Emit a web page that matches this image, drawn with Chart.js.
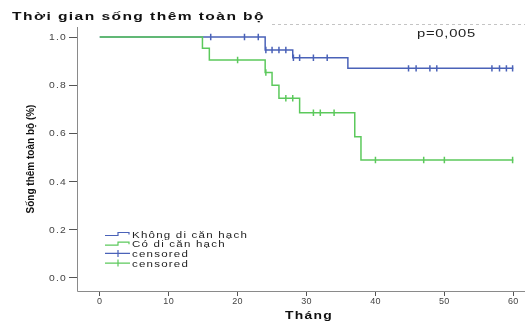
<!DOCTYPE html>
<html><head><meta charset="utf-8">
<script src="https://cdn.jsdelivr.net/npm/chart.js@4.4.0/dist/chart.umd.min.js"></script>
<style>html,body{margin:0;padding:0;background:#fff;overflow:hidden}</style>
</head><body>
<canvas id="c" width="525" height="321"></canvas>
<script>
const titleText = "Thời gian sống thêm toàn bộ";
const xTitle = "Tháng";
const yTitle = "Sống thêm toàn bộ (%)";
const pText = "p=0,005";
const legendLabels = ["Không di căn hạch", "Có di căn hạch", "censored", "censored"];
const xTicks = [0, 10, 20, 30, 40, 50, 60];
const yTicks = [0, 0.2, 0.4, 0.6, 0.8, 1.0];

const blueTimes = [0, 24, 28, 36, 60];
const blueSurv = [1.0, 0.946, 0.914, 0.870, 0.870];
const blueCensTimes = [16.1, 21, 23, 24.1, 25, 26, 27, 28.1, 29, 31, 33, 44.8, 45.9, 47.9, 48.9, 56.9, 58, 59, 59.9];
const blueCensSurv = [1, 1, 1, 0.946, 0.946, 0.946, 0.946, 0.914, 0.914, 0.914, 0.914, 0.870, 0.870, 0.870, 0.870, 0.870, 0.870, 0.870, 0.870];

const greenTimes = [0, 14.9, 15.9, 24, 25, 26, 29, 37, 37.9, 60];
const greenSurv = [1.0, 0.953, 0.905, 0.853, 0.800, 0.746, 0.686, 0.586, 0.490, 0.490];
const greenCensTimes = [20, 24.1, 27, 28, 31, 32, 34, 40, 47, 50, 59.9];
const greenCensSurv = [0.905, 0.853, 0.746, 0.746, 0.686, 0.686, 0.686, 0.49, 0.49, 0.49, 0.49];

const BLUE = '#4a62b8';
const GREEN = '#5cc95c';

const pts = (xs, ys) => xs.map((x, i) => ({x: x, y: ys[i]}));

function stretchText(ctx, text, x, y, font, color, targetW, align, spacing) {
  ctx.save();
  ctx.font = font;
  ctx.letterSpacing = (spacing || 0) + 'px';
  ctx.fillStyle = color;
  ctx.textBaseline = 'alphabetic';
  ctx.textAlign = 'left';
  const w = ctx.measureText(text).width;
  const sx = targetW ? targetW / w : 1;
  const drawW = w * sx;
  let left = x;
  if (align === 'center') left = x - drawW / 2;
  else if (align === 'right') left = x - drawW;
  ctx.translate(left, y);
  ctx.scale(sx, 1);
  ctx.fillText(text, 0, 0);
  ctx.restore();
}

const decor = {
  id: 'decor',
  afterDraw(chart) {
    const ctx = chart.ctx;
    const xs = chart.scales.x, ys = chart.scales.y;
    const ca = chart.chartArea;
    // axis lines
    ctx.save();
    ctx.strokeStyle = '#8a8a8a';
    ctx.lineWidth = 1;
    ctx.beginPath();
    ctx.moveTo(ca.left + 0.5, ca.top + 2);
    ctx.lineTo(ca.left + 0.5, ca.bottom + 0.5);
    ctx.lineTo(525, ca.bottom + 0.5);
    ctx.stroke();
    ctx.restore();
    // title
    stretchText(ctx, titleText, 12, 20, 'bold 11px "Liberation Sans", Arial, sans-serif', '#111', 253, 'left', 1);
    // dashed rule
    ctx.save();
    ctx.strokeStyle = '#c4c4c4';
    ctx.lineWidth = 1;
    ctx.setLineDash([3, 3]);
    ctx.beginPath();
    ctx.moveTo(272, 24.5);
    ctx.lineTo(525, 24.5);
    ctx.stroke();
    ctx.restore();
    // p value
    stretchText(ctx, pText, 417, 37, '10px "Liberation Sans", Arial, sans-serif', '#222', 59, 'left', 0.5);
    // y tick labels
    yTicks.forEach(v => {
      const py = ys.getPixelForValue(v);
      stretchText(ctx, v.toFixed(1), 67, py + 3, '8.5px "Liberation Sans", Arial, sans-serif', '#444', 18, 'right', 1);
    });
    // x tick labels
    xTicks.forEach(v => {
      const px = xs.getPixelForValue(v);
      stretchText(ctx, String(v), px, 303.5, '9px "Liberation Sans", Arial, sans-serif', '#444', 0, 'center', 0.3);
    });
    // x title
    stretchText(ctx, xTitle, 285, 319, 'bold 11px "Liberation Sans", Arial, sans-serif', '#111', 48, 'left', 1);
    // y title (rotated)
    ctx.save();
    ctx.translate(34, 159);
    ctx.rotate(-Math.PI / 2);
    ctx.font = 'bold 10px "Liberation Sans", Arial, sans-serif';
    ctx.fillStyle = '#111';
    ctx.textAlign = 'center';
    ctx.textBaseline = 'alphabetic';
    ctx.fillText(yTitle, 0, 0);
    ctx.restore();
    // legend
    const rowsY = [234, 243.7, 253.4, 263.1];
    const cols = [BLUE, GREEN, BLUE, GREEN];
    ctx.save();
    ctx.font = '9.5px "Liberation Sans", Arial, sans-serif';
    ctx.letterSpacing = '1px';
    const w0 = ctx.measureText(legendLabels[0]).width;
    ctx.restore();
    const sxL = 116 / w0;
    rowsY.forEach((yc, i) => {
      ctx.save();
      ctx.strokeStyle = cols[i];
      ctx.lineWidth = 1.2;
      ctx.beginPath();
      if (i < 2) {
        ctx.moveTo(105, yc + 1.5);
        ctx.lineTo(118, yc + 1.5);
        ctx.lineTo(118, yc - 1.5);
        ctx.lineTo(129, yc - 1.5);
        ctx.lineTo(129, yc + 0.5);
      } else {
        ctx.moveTo(105, yc);
        ctx.lineTo(130, yc);
        ctx.moveTo(118, yc - 3.5);
        ctx.lineTo(118, yc + 3.5);
      }
      ctx.stroke();
      ctx.restore();
      ctx.save();
      ctx.font = '9.5px "Liberation Sans", Arial, sans-serif';
      ctx.letterSpacing = '1px';
      const w = ctx.measureText(legendLabels[i]).width;
      ctx.restore();
      stretchText(ctx, legendLabels[i], 132, yc + 3.5, '9.5px "Liberation Sans", Arial, sans-serif', '#222', w * sxL, 'left', 1);
    });
  }
};

new Chart(document.getElementById('c'), {
  type: 'scatter',
  data: {
    datasets: [
      {label: legendLabels[0], data: pts(blueTimes, blueSurv), showLine: true, stepped: 'before',
       borderColor: BLUE, borderWidth: 1.5, pointRadius: 0, order: 2},
      {label: legendLabels[1], data: pts(greenTimes, greenSurv), showLine: true, stepped: 'before',
       borderColor: GREEN, borderWidth: 1.5, pointRadius: 0, order: 1},
      {label: legendLabels[2], data: pts(blueCensTimes, blueCensSurv), showLine: false,
       pointStyle: 'line', rotation: 90, pointRadius: 3.2, borderColor: BLUE, borderWidth: 1.5, order: 0},
      {label: legendLabels[3], data: pts(greenCensTimes, greenCensSurv), showLine: false,
       pointStyle: 'line', rotation: 90, pointRadius: 3.2, borderColor: GREEN, borderWidth: 1.5, order: 0}
    ]
  },
  options: {
    responsive: false,
    animation: false,
    events: [],
    layout: {padding: {top: 25, right: 2, left: 0, bottom: 0}},
    plugins: {legend: {display: false}, tooltip: {enabled: false}, title: {display: false}},
    scales: {
      x: {
        type: 'linear', min: -3.3, max: 60.9,
        afterBuildTicks: s => { s.ticks = xTicks.map(v => ({value: v})); },
        afterFit: s => { s.height = 30; },
        ticks: {display: false},
        grid: {drawOnChartArea: false, drawTicks: true, tickLength: 5, color: '#555', lineWidth: 1},
        border: {display: false}
      },
      y: {
        type: 'linear', min: -0.054, max: 1.05,
        afterBuildTicks: s => { s.ticks = yTicks.map(v => ({value: v})); },
        afterFit: s => { s.width = 77; },
        ticks: {display: false},
        grid: {drawOnChartArea: false, drawTicks: true, tickLength: 8, color: '#555', lineWidth: 1},
        border: {display: false}
      }
    }
  },
  plugins: [decor]
});
</script>
</body></html>
